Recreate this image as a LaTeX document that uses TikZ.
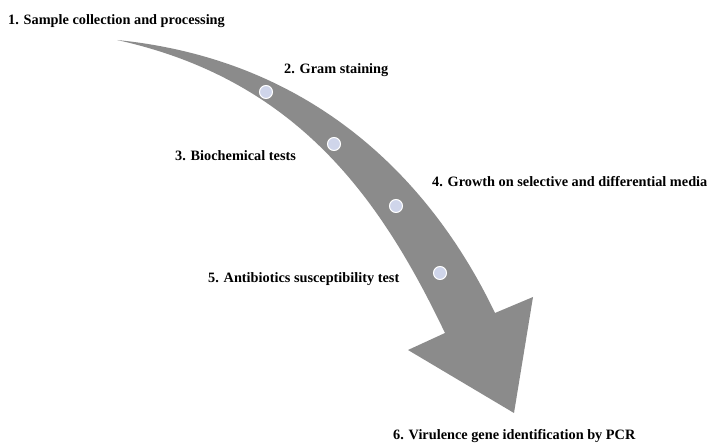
\documentclass[tikz,border=0pt]{standalone}
\usepackage{fontspec}
\setmainfont{Liberation Serif}
\definecolor{arrowgray}{RGB}{139,139,139}
\definecolor{dotblue}{RGB}{207,213,234}
\tikzset{
  stagelabel/.style={anchor=base west, inner sep=0pt, font=\fontsize{14.3}{17}\selectfont\bfseries},
  stagedot/.style={circle, fill=dotblue, draw=white, line width=1pt, minimum size=13pt, inner sep=0pt}
}

\begin{document}
\begin{tikzpicture}[x=1pt, y=-1pt]
        \useasboundingbox (0,0) rectangle (707,443);
        % curved arrow
        \fill[arrowgray] (117,40) .. controls (327,61) and (439.1,196) .. (495,313)
            -- (533,297) -- (514,413) -- (408,350) -- (445,333)
            .. controls (380.5,198) and (297,79.6) .. (117,40) -- cycle;
        % dots
        \node[stagedot] (dot1) at (266,92) {};
        \node[stagedot] (dot2) at (334,144) {};
        \node[stagedot] (dot3) at (396,206) {};
        \node[stagedot] (dot4) at (440,273) {};
        % stages
        \node[stagelabel] (stage1) at (8,25) {1. Sample collection and processing};
        \node[stagelabel] (stage2) at (284,74) {2. Gram staining};
        \node[stagelabel] (stage3) at (175,161) {3. Biochemical tests};
        \node[stagelabel] (stage4) at (432,187) {4. Growth on selective and differential media};
        \node[stagelabel] (stage5) at (208,283) {5. Antibiotics susceptibility test};
        \node[stagelabel] (stage6) at (393,439) {6. Virulence gene identification by PCR};
\end{tikzpicture}
\end{document}
